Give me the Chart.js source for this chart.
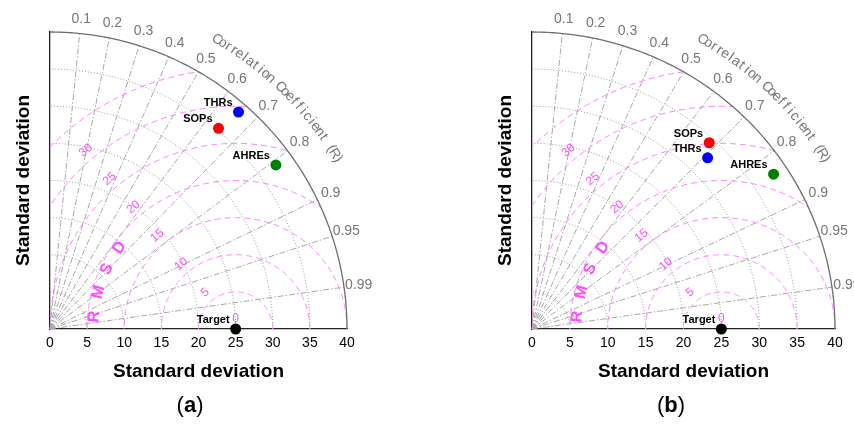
<!DOCTYPE html>
<html>
<head>
<meta charset="utf-8">
<script src="https://cdn.jsdelivr.net/npm/chart.js@4.4.1/dist/chart.umd.min.js"></script>
<style>
  html, body { margin: 0; padding: 0; background: #fff; }
  body { width: 854px; height: 425px; position: relative; overflow: hidden; font-family: "Liberation Sans", Arial, sans-serif; }
  .panel { position: absolute; top: 0; height: 425px; }
  #panelA { left: 0; width: 427px; }
  #panelB { left: 482px; width: 372px; }
  .tag { position: absolute; top: 392px; width: 60px; text-align: center; font-size: 22px; color: #000; }
</style>
</head>
<body>
<div class="panel" id="panelA"><canvas id="chartA"></canvas></div>
<div class="panel" id="panelB"><canvas id="chartB"></canvas></div>
<div class="tag" style="left:160px">(<b>a</b>)</div>
<div class="tag" style="left:641px">(<b>b</b>)</div>
<script>
// model names and colours
const models = ["SOPs", "THRs", "AHREs"];
const modelColors = ["#ff0000", "#0000ff", "#008000"];

// (a) standard deviation and correlation of each model
const stdA = [35.3, 38.7, 37.6];
const corA = [0.643, 0.656, 0.809];

// (b)
const stdB = [34.3, 32.7, 38.1];
const corB = [0.682, 0.709, 0.837];

// reference (observed) standard deviation
const refStd = 25;

// grid and label values
const stdMax = 40;
const stdRings = [5, 10, 15, 20, 25, 30, 35];
const corrTicks = [0.1, 0.2, 0.3, 0.4, 0.5, 0.6, 0.7, 0.8, 0.9, 0.95, 0.99];
const rmsRings = [5, 10, 15, 20, 25, 30, 35];
const rmsLabels = [0, 5, 10, 15, 20, 25, 30];
const rmsLetters = ["R", "M", "S", "D"];
const corrTitle = "Correlation Coefficient (R)";

const FONT = '"Liberation Sans", Arial, sans-serif';
const DEG = Math.PI / 180;

// trace an arc (in data units) as a polyline through the chart scales
function traceArc(ctx, toPx, cx, cy, r, a0, a1, move) {
    const n = 200;
    for (let i = 0; i <= n; i++) {
        const a = (a0 + (a1 - a0) * i / n) * DEG;
        const p = toPx(cx + r * Math.cos(a), cy + r * Math.sin(a));
        if (i === 0 && move) ctx.moveTo(p[0], p[1]);
        else ctx.lineTo(p[0], p[1]);
    }
}

function rotText(ctx, str, x, y, rot) {
    ctx.save();
    ctx.translate(x, y);
    ctx.rotate(rot);
    ctx.fillText(str, 0, 0);
    ctx.restore();
}

// polar grid, RMSD arcs and their labels
const taylorGrid = {
    id: 'taylorGrid',
    beforeDatasetsDraw(chart) {
        const ctx = chart.ctx;
        const sx = chart.scales.x, sy = chart.scales.y;
        const toPx = (u, v) => [sx.getPixelForValue(u), sy.getPixelForValue(v)];
        const polar = (r, deg, cx = 0, cy = 0) => toPx(cx + r * Math.cos(deg * DEG), cy + r * Math.sin(deg * DEG));
        const o = toPx(0, 0);

        ctx.save();
        ctx.lineWidth = 1;

        // standard deviation rings
        ctx.strokeStyle = '#999';
        ctx.setLineDash([1, 2]);
        stdRings.forEach(s => {
            ctx.beginPath();
            traceArc(ctx, toPx, 0, 0, s, 0, 90, true);
            ctx.stroke();
        });

        // correlation rays
        ctx.strokeStyle = '#a8a8a8';
        ctx.setLineDash([6, 2, 1.5, 2]);
        corrTicks.forEach(c => {
            const p = polar(stdMax, Math.acos(c) / DEG);
            ctx.beginPath();
            ctx.moveTo(o[0], o[1]);
            ctx.lineTo(p[0], p[1]);
            ctx.stroke();
        });

        // RMSD arcs around the reference point, kept inside the quarter circle
        ctx.save();
        ctx.beginPath();
        ctx.moveTo(o[0], o[1]);
        traceArc(ctx, toPx, 0, 0, stdMax, 0, 90, false);
        ctx.closePath();
        ctx.clip();
        ctx.strokeStyle = '#ff80ff';
        ctx.setLineDash([6, 4]);
        rmsRings.forEach(r => {
            ctx.beginPath();
            traceArc(ctx, toPx, refStd, 0, r, 0, 180, true);
            ctx.stroke();
        });
        ctx.restore();

        // outer ring
        ctx.setLineDash([]);
        ctx.strokeStyle = '#6e6e6e';
        ctx.lineWidth = 1.3;
        ctx.beginPath();
        traceArc(ctx, toPx, 0, 0, stdMax, 0, 90, true);
        ctx.stroke();

        // RMSD values
        ctx.fillStyle = '#ff4dff';
        ctx.textAlign = 'center';
        ctx.textBaseline = 'middle';
        ctx.font = '12px ' + FONT;
        rmsLabels.forEach(r => {
            const ang = r === 0 ? 90 : 130;
            const p = polar(r + 1.4, ang, refStd, 0);
            rotText(ctx, String(r), p[0], p[1], (90 - ang) * DEG);
        });

        // "RMSD" along its arc
        ctx.font = 'bold 16px ' + FONT;
        rmsLetters.forEach((ch, i) => {
            const ang = 175 - i * 10;
            const p = polar(19.1, ang, refStd, 0);
            rotText(ctx, ch, p[0], p[1], (90 - ang) * DEG);
        });

        // correlation tick labels
        ctx.fillStyle = '#777';
        ctx.font = '14px ' + FONT;
        corrTicks.forEach(c => {
            const p = polar(42, Math.acos(c) / DEG);
            ctx.fillText(String(c), p[0], p[1]);
        });

        // curved correlation title
        ctx.font = '14px ' + FONT;
        const chars = corrTitle.split('');
        chars.forEach((ch, i) => {
            const ang = 60 - i * (29.5 / (chars.length - 1));
            const p = polar(45, ang);
            rotText(ctx, ch, p[0], p[1], (90 - ang) * DEG);
        });

        ctx.restore();
    }
};

// names beside the markers
const pointNames = {
    id: 'pointNames',
    afterDatasetsDraw(chart) {
        const ctx = chart.ctx;
        ctx.save();
        ctx.fillStyle = '#000';
        ctx.font = 'bold 11px ' + FONT;
        ctx.textAlign = 'right';
        ctx.textBaseline = 'middle';
        chart.data.datasets.forEach((ds, i) => {
            const pt = chart.getDatasetMeta(i).data[0];
            ctx.fillText(ds.label, pt.x - 6, pt.y - 9);
        });
        ctx.restore();
    }
};

function makeTaylor(canvasId, std, cor, areaRight, canvasW) {
    const datasets = models.map((m, i) => ({
        label: m,
        data: [{ x: std[i] * cor[i], y: std[i] * Math.sqrt(1 - cor[i] * cor[i]) }],
        backgroundColor: modelColors[i],
        borderWidth: 0,
        pointRadius: 5.5,
        clip: false
    }));
    datasets.push({
        label: 'Target',
        data: [{ x: refStd, y: 0 }],
        backgroundColor: '#000',
        borderWidth: 0,
        pointRadius: 5.5,
        clip: false
    });

    const axisTitle = (pad) => ({
        display: true,
        text: 'Standard deviation',
        color: '#000',
        font: { family: FONT, size: 19, weight: 'bold' },
        padding: pad
    });

    new Chart(document.getElementById(canvasId), {
        type: 'scatter',
        data: { datasets: datasets },
        options: {
            responsive: true,
            maintainAspectRatio: false,
            animation: false,
            layout: { padding: { top: 32, right: canvasW - areaRight, bottom: 0, left: 0 } },
            plugins: { legend: { display: false }, tooltip: { enabled: false } },
            scales: {
                x: {
                    type: 'linear', min: 0, max: stdMax,
                    ticks: { stepSize: 5, color: '#000', font: { family: FONT, size: 14 }, padding: 6, maxRotation: 0 },
                    grid: { display: false, drawTicks: false },
                    border: { display: true, color: '#222', width: 1.3 },
                    title: axisTitle({ top: 0, bottom: 42 }),
                    afterFit(s) { s.height = 96; }
                },
                y: {
                    type: 'linear', min: 0, max: stdMax,
                    ticks: { display: false },
                    grid: { display: false, drawTicks: false },
                    border: { display: true, color: '#222', width: 1.3 },
                    title: axisTitle({ top: 12, bottom: 0 }),
                    afterFit(s) { s.width = 50; }
                }
            }
        },
        plugins: [taylorGrid, pointNames]
    });
}

makeTaylor('chartA', stdA, corA, 347, 427);
makeTaylor('chartB', stdB, corB, 353, 372);
</script>
</body>
</html>
